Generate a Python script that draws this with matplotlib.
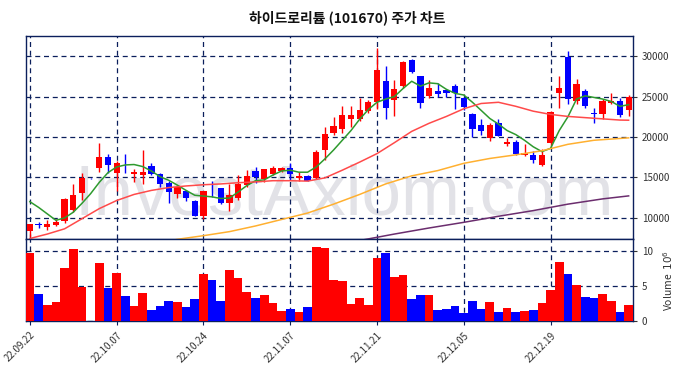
import numpy as np
import matplotlib.pyplot as plt

plt.rcParams['font.family'] = ['Noto Sans CJK KR', 'DejaVu Sans']

# 일자 눈금 (거래일 인덱스 기준)
tick_idx = [0, 10, 20, 30, 40, 50, 60]
tick_labels = ['22.09.22', '22.10.07', '22.10.24', '22.11.07', '22.11.21', '22.12.05', '22.12.19']

# 시가 / 고가 / 저가 / 종가
opens = np.array([8390, 9250, 8900, 9130, 9600, 11000, 13100, 14950, 16200, 17470,
                  15560, 16100, 15370, 15300, 16400, 15370, 14330, 12930, 13340, 12100,
                  10210, 13220, 13670, 11860, 12470, 14040, 15780, 14870, 15400, 15860,
                  16110, 14950, 15160, 14950, 18370, 20510, 21010, 22240, 22240, 23200,
                  24310, 26900, 24640, 26290, 29500, 27530, 25050, 25670, 25880, 26290,
                  24840, 22900, 21550, 19850, 21680, 19200, 19360, 17760, 17840, 16600,
                  19280, 25460, 29910, 24520, 25670, 22990, 22910, 24220, 24430, 23320])
highs = np.array([9300, 9500, 9700, 9900, 12400, 14250, 15500, 14950, 19300, 17950,
                  17050, 17950, 16100, 18370, 16800, 15560, 14540, 14040, 13500, 12200,
                  13350, 14580, 13750, 14170, 15280, 15900, 16300, 16100, 16400, 16350,
                  16730, 15690, 15300, 18370, 21250, 22490, 23900, 23815, 24840, 24600,
                  31030, 28760, 27100, 29400, 29600, 27600, 27100, 26700, 26000, 26500,
                  25000, 23000, 22170, 21700, 22170, 19900, 19600, 19080, 18250, 18460,
                  23200, 27530, 30620, 27200, 25950, 23600, 24650, 25390, 24840, 25260])
lows = np.array([7600, 8800, 8500, 9000, 9400, 10700, 12200, 14850, 15700, 15500,
                 13350, 15500, 14450, 14250, 15300, 13830, 11780, 12400, 12100, 10200,
                 9870, 12600, 11700, 10860, 12270, 13760, 14330, 14500, 15280, 15700,
                 14660, 14570, 14580, 14870, 17220, 20230, 20440, 21260, 21960, 23000,
                 23480, 22170, 22580, 26100, 27900, 23600, 24840, 24960, 25000, 23410,
                 23400, 20020, 20310, 19500, 20100, 18870, 17750, 17700, 16800, 16400,
                 18870, 23600, 24030, 24030, 23600, 21680, 22170, 24030, 22490, 22580])
closes = np.array([9300, 9150, 9200, 9500, 12300, 12800, 14950, 14900, 17550, 16600,
                   16760, 16000, 15690, 15690, 15450, 14130, 13200, 13760, 12520, 10210,
                   13300, 13150, 11780, 12840, 14170, 15240, 15030, 15990, 16230, 16230,
                   15370, 15120, 14600, 18160, 20350, 21340, 22670, 22700, 23400, 24350,
                   28270, 23600, 25950, 29260, 28100, 24150, 26040, 25340, 25460, 25390,
                   23690, 21000, 20720, 21450, 20190, 19360, 17960, 18040, 17140, 17840,
                   23070, 26080, 24720, 26620, 23900, 22870, 24430, 24400, 22700, 24930])
# 거래량 (백만주)
volume = np.array([9.76, 3.86, 2.29, 2.71, 7.57, 10.29, 4.9, 0.05, 8.29, 4.76,
                   6.86, 3.57, 2.14, 4.0, 1.57, 2.14, 2.86, 2.71, 2.0, 3.14,
                   6.71, 5.86, 2.86, 7.29, 6.14, 4.14, 3.29, 3.71, 2.57, 1.43,
                   1.71, 1.29, 2.0, 10.57, 10.43, 5.86, 5.71, 2.43, 3.29, 2.29,
                   9.0, 9.76, 6.29, 6.57, 3.14, 3.71, 3.71, 1.57, 1.71, 2.14,
                   1.14, 2.86, 1.71, 2.71, 1.29, 1.86, 1.29, 1.43, 1.57, 2.57,
                   4.43, 8.43, 6.71, 5.14, 3.43, 3.29, 3.86, 2.86, 1.29, 2.29])

# 이동평균선
ma5 = np.array([12000, 11300, 10500, 9700, 10000, 10700, 11800, 13000, 14400, 15600,
                16300, 16550, 16600, 16350, 15800, 15100, 14650, 14050, 13400, 12800,
                12700, 12600, 12400, 12450, 13200, 14000, 14600, 14700, 15300, 15800,
                15900, 15650, 15650, 16300, 17300, 18400, 19600, 20800, 22200, 23400,
                24300, 24700, 25000, 26000, 26900, 26300, 26700, 26600, 25900, 25400,
                25200, 24300, 23300, 22300, 21600, 20800, 20300, 19600, 18800, 18200,
                18600, 20800, 22500, 24700, 25100, 24900, 24700, 24400, 23800, 24000])
ma20_idx = [0, 2, 4, 6, 8, 10, 12, 14, 16, 18, 20, 22, 24, 26, 28, 30, 32, 34,
            36, 38, 40, 42, 44, 46, 48, 50, 52, 54, 56, 58, 60, 62, 64, 66, 68, 69]
ma20 = [7450, 8000, 8650, 9900, 11150, 12150, 12900, 13400, 13750, 13950, 14100, 14200,
        14350, 14450, 14600, 14600, 14550, 14950, 15900, 16900, 17950, 19300, 20700, 21700,
        22550, 23500, 24150, 24300, 23800, 23200, 22800, 22550, 22400, 22250, 22100, 22080]
ma60_idx = [16, 17, 20, 23, 26, 29, 32, 35, 38, 41, 44, 47, 50, 53, 56, 59, 62, 65, 69]
ma60 = [7150, 7350, 7800, 8300, 9000, 9800, 10600, 11700, 12900, 14200,
        15200, 15850, 16750, 17350, 17800, 18300, 19100, 19600, 19900]
ma120_idx = [38, 42, 46, 50, 54, 58, 62, 66, 69]
ma120 = [7200, 8000, 8750, 9450, 10200, 10900, 11700, 12350, 12720]

navy = '#0b1f5c'
red = '#ff0000'
blue = '#0000ff'

x = np.arange(len(closes))
colors = [red if c >= o else blue for o, c in zip(opens, closes)]

fig = plt.figure(figsize=(6.86, 3.78), dpi=100)
ax1 = fig.add_axes([0.0379, 0.3669, 0.8848, 0.5379])
ax2 = fig.add_axes([0.0379, 0.1508, 0.8848, 0.2161], sharex=ax1)

# 워터마크
ax1.text(0.524, 0.12, 'InvestAxiom.com', transform=ax1.transAxes, ha='center',
         va='baseline', fontsize=51, color='#e2e2e7', family='Liberation Sans', zorder=0)

# 캔들
ax1.vlines(x, lows, highs, colors=colors, linewidth=1, zorder=3)
body_bottom = np.minimum(opens, closes)
body_h = np.maximum(np.abs(closes - opens), 60)
ax1.bar(x, body_h, bottom=body_bottom, width=0.72, color=colors, zorder=4)

# 이동평균
ax1.plot(x, ma5, color='#2e9a2e', lw=1.1, zorder=5)
ax1.plot(ma20_idx, ma20, color='#ff4a4a', lw=1.1, zorder=5)
ax1.plot(ma60_idx, ma60, color='#ffb030', lw=1.1, zorder=5)
ax1.plot(ma120_idx, ma120, color='#6b2d6e', lw=1.1, zorder=5)

ax1.set_xlim(-0.45, 69.5)
ax1.set_ylim(7350, 32500)
ax1.set_yticks([10000, 15000, 20000, 25000, 30000])
ax1.yaxis.tick_right()
ax1.tick_params(axis='y', labelsize=7, colors='#333333', length=3)

# 거래량
ax2.bar(x, volume, width=1.0, color=colors, zorder=3)
ax2.set_ylim(0, 11.7)
ax2.set_yticks([0, 5, 10])
ax2.yaxis.tick_right()
ax2.yaxis.set_label_position('right')
ax2.set_ylabel('Volume  $10^6$', fontsize=7.5, color='#333333', labelpad=6)
ax2.tick_params(axis='y', labelsize=7, colors='#333333', length=3)

for ax in (ax1, ax2):
    ax.set_xticks(tick_idx)
    ax.grid(True, color=navy, linestyle=(0, (4, 3)), linewidth=0.9, zorder=1)
    ax.set_axisbelow(True)
    for s in ax.spines.values():
        s.set_color(navy)
        s.set_linewidth(1)
ax1.tick_params(axis='x', labelbottom=False, length=0)
ax2.set_xticklabels(tick_labels, rotation=45, ha='right', rotation_mode='anchor',
                    fontsize=7, color='#333333')
ax2.tick_params(axis='x', length=3, color=navy)

fig.text(0.506, 0.952, '하이드로리튬 (101670) 주가 차트', ha='center', va='center',
         fontsize=10, fontweight='bold', color='#111111')

fig.savefig('out.png', dpi=100)
